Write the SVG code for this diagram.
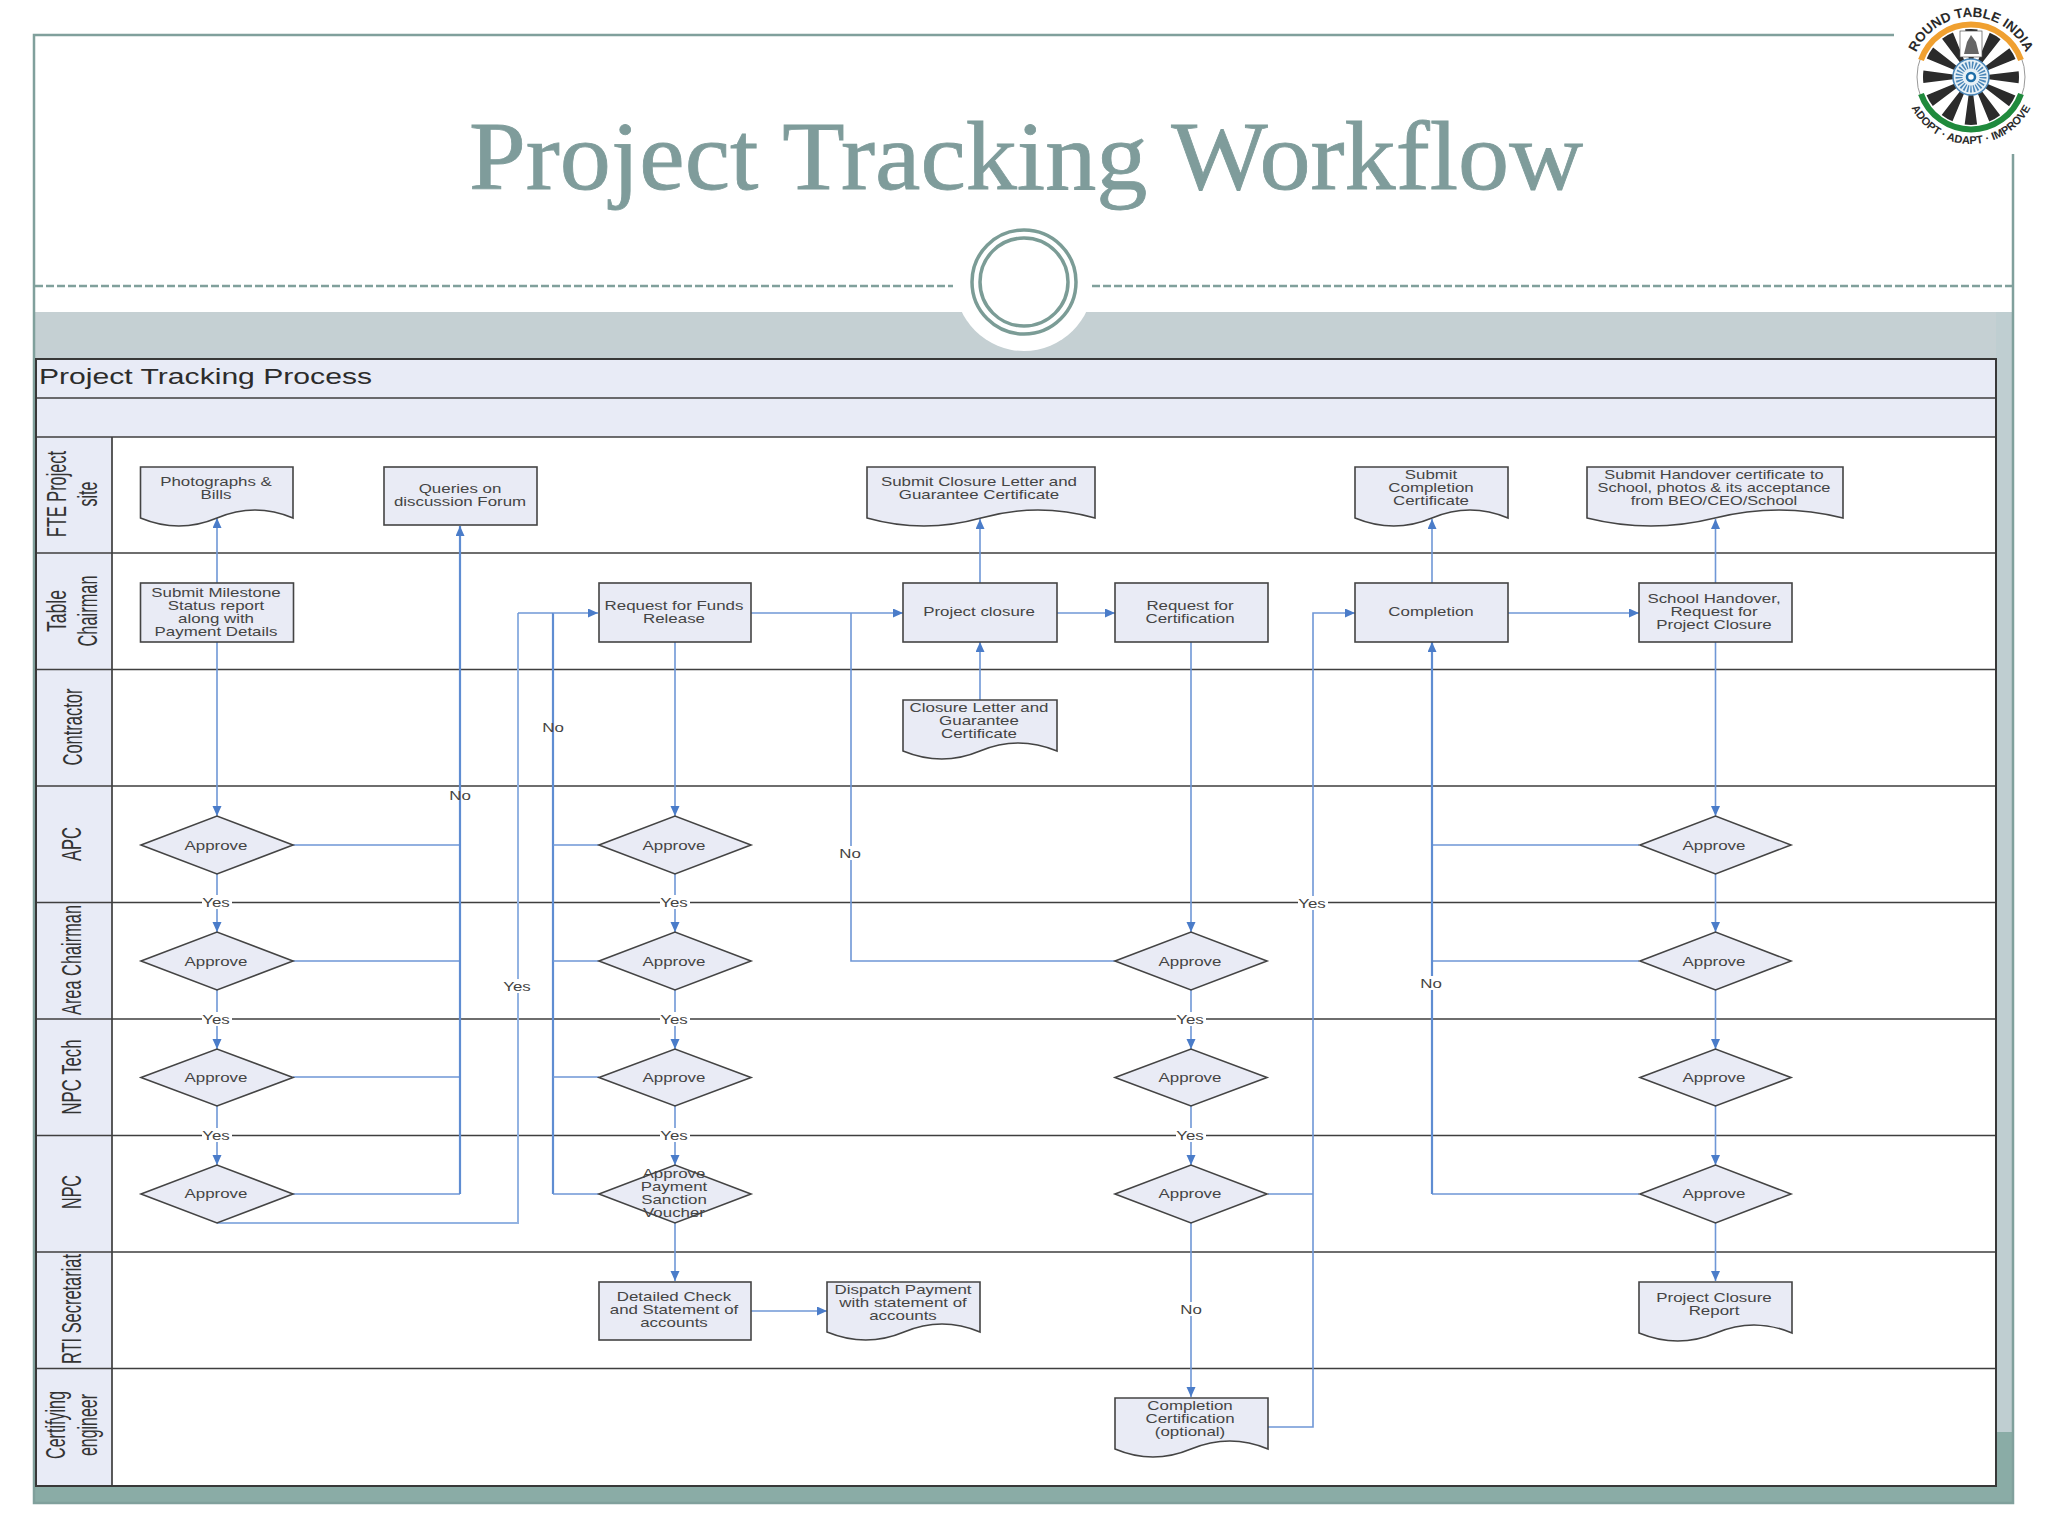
<svg xmlns="http://www.w3.org/2000/svg" width="2048" height="1536" viewBox="0 0 2048 1536">
<style>
text{font-family:"Liberation Sans",Arial,sans-serif}
.t{font-size:12.800px;fill:#444;text-anchor:middle}
.l{font-size:12.800px;fill:#444;text-anchor:middle}
.lane{font-size:27px;fill:#333;text-anchor:middle}
.n{fill:#e9ebf5;stroke:#444;stroke-width:1.600}
.c{fill:none;stroke:#6f97d6;stroke-width:1.600}
.c2{fill:none;stroke:#93b3e2;stroke-width:2}
.c3{fill:none;stroke:#5f8dd2;stroke-width:2.200}
.a{marker-end:url(#ah)}
.r{stroke:#3f3f3f;stroke-width:1.700;fill:none}
.bg{fill:#fff}
</style>
<defs>
<marker id="ah" markerUnits="userSpaceOnUse" markerWidth="11" markerHeight="10" refX="10" refY="4.500" orient="auto"><path d="M0 0L10 4.500L0 9Z" fill="#4a7cc9"/></marker>
</defs>
<rect width="2048" height="1536" fill="#fff"/>
<g id="slide-frame">
<rect x="35" y="312" width="1978" height="50" fill="#c5d0d3"/>
<rect x="1996" y="312" width="18" height="1120" fill="#bfced1"/>
<rect x="1996" y="1432" width="18" height="72" fill="#8aaca6"/>
<rect x="34" y="1486" width="1980" height="18" fill="#8aaca6"/>
<circle cx="1024" cy="282" r="69" fill="#fff"/>
<path d="M1894 35H34V1503H2013V154" fill="none" stroke="#80a09c" stroke-width="2.500"/>
<path d="M35 286H953M1092 286H2012" fill="none" stroke="#80a09c" stroke-width="2.500" stroke-dasharray="8 3"/>
<circle cx="1024" cy="282" r="52" fill="#fff" stroke="#7b9c96" stroke-width="3.500"/>
<circle cx="1024" cy="282" r="44" fill="none" stroke="#7b9c96" stroke-width="3.500"/>
<text x="469" y="189" font-size="98" fill="#7f9c9b" stroke="#7f9c9b" stroke-width=".8" textLength="1114" lengthAdjust="spacingAndGlyphs" style="font-family:'Liberation Serif','Times New Roman',serif">Project Tracking Workflow</text>
</g>
<g id="logo">
<circle cx="1971" cy="77" r="54" fill="#fff" stroke="#999" stroke-width="1"/>
<circle cx="1971" cy="77" r="33" fill="none" stroke="#2b2b2b" stroke-width="30" stroke-dasharray="8.640 8.640" stroke-dashoffset="4.320"/>
<path d="M1921 60A53 53 0 0 1 2021 60" fill="none" stroke="#f0a030" stroke-width="6"/>
<path d="M1921 94A53 53 0 0 0 2021 94" fill="none" stroke="#1f8a3c" stroke-width="6"/>
<rect x="1960" y="31" width="22" height="26" fill="#fff" stroke="#555" stroke-width=".7"/>
<path d="M1971 35L1976 42L1979 54H1964L1967 42Z" fill="#666"/>
<circle cx="1971" cy="77" r="18" fill="#e6f0f6" stroke="#4a86b8" stroke-width="1.500"/>
<circle cx="1971" cy="77" r="12" fill="none" stroke="#4a86b8" stroke-width="7" stroke-dasharray="1.500 1.500"/>
<circle cx="1971" cy="77" r="4" fill="#fff" stroke="#1f6ea8" stroke-width="2.500"/>
<path id="lt" d="M1911 77A60 60 0 0 1 2031 77" fill="none"/>
<path id="lb" d="M1904 77A67 67 0 0 0 2038 77" fill="none"/>
<text font-size="13.500" font-weight="bold" fill="#2a2a2a" text-anchor="middle"><textPath href="#lt" startOffset="50%">ROUND TABLE INDIA</textPath></text>
<text font-size="11" font-weight="bold" fill="#2a2a2a" text-anchor="middle"><textPath href="#lb" startOffset="50%">ADOPT · ADAPT · IMPROVE</textPath></text>
</g>
<g id="swimlanes">
<rect x="36" y="359" width="1960" height="78" fill="#e8ebf6"/>
<rect x="36" y="437" width="76" height="1049" fill="#e8ebf6"/>
<rect x="112" y="437" width="1884" height="1049" fill="#fff"/>
<path class="r" d="M36 398H1996M36 437H1996M36 553H1996M36 669.500H1996M36 786H1996M36 902.500H1996M36 1019H1996M36 1135.500H1996M36 1252H1996M36 1368.500H1996M112 437V1486"/>
<rect x="36" y="359" width="1960" height="1127" fill="none" stroke="#383838" stroke-width="2"/>
<text x="39" y="384" font-size="22" fill="#2c2c2c" textLength="333" lengthAdjust="spacingAndGlyphs">Project Tracking Process</text>
<text class="lane" transform="translate(66 494) rotate(-90)" textLength="86" lengthAdjust="spacingAndGlyphs">FTE Project</text>
<text class="lane" transform="translate(97 494) rotate(-90)" textLength="25" lengthAdjust="spacingAndGlyphs">site</text>
<text class="lane" transform="translate(66 611) rotate(-90)" textLength="42" lengthAdjust="spacingAndGlyphs">Table</text>
<text class="lane" transform="translate(97 611) rotate(-90)" textLength="71" lengthAdjust="spacingAndGlyphs">Chairman</text>
<text class="lane" transform="translate(82 727) rotate(-90)" textLength="77" lengthAdjust="spacingAndGlyphs">Contractor</text>
<text class="lane" transform="translate(81 844) rotate(-90)" textLength="34" lengthAdjust="spacingAndGlyphs">APC</text>
<text class="lane" transform="translate(81 960) rotate(-90)" textLength="110" lengthAdjust="spacingAndGlyphs">Area Chairman</text>
<text class="lane" transform="translate(81 1077) rotate(-90)" textLength="75" lengthAdjust="spacingAndGlyphs">NPC Tech</text>
<text class="lane" transform="translate(81 1192) rotate(-90)" textLength="34" lengthAdjust="spacingAndGlyphs">NPC</text>
<text class="lane" transform="translate(81 1309) rotate(-90)" textLength="110" lengthAdjust="spacingAndGlyphs">RTI Secretariat</text>
<text class="lane" transform="translate(65 1425) rotate(-90)" textLength="68" lengthAdjust="spacingAndGlyphs">Certifying</text>
<text class="lane" transform="translate(97 1425) rotate(-90)" textLength="62" lengthAdjust="spacingAndGlyphs">engineer</text>
</g>
<g id="connectors">
<path class="c a" d="M217 583V518"/>
<path class="c a" d="M217 642V816"/>
<path class="c a" d="M217 874V932"/>
<path class="c a" d="M217 990V1049"/>
<path class="c a" d="M217 1106V1165"/>
<path class="c" d="M293 845H460M293 961H460M293 1077H460M293 1194H460"/>
<path class="c3 a" d="M460 1194V526"/>
<path class="c2" d="M217 1223H518V613"/>
<path class="c" d="M518 613H553"/>
<path class="c3" d="M553 1194V613"/>
<path class="c a" d="M553 613H598"/>
<path class="c" d="M599 845H553M599 961H553M599 1077H553M599 1194H553"/>
<path class="c a" d="M675 642V816"/>
<path class="c a" d="M675 874V932"/>
<path class="c a" d="M675 990V1049"/>
<path class="c a" d="M675 1106V1165"/>
<path class="c a" d="M675 1223V1281"/>
<path class="c a" d="M751 1311H827"/>
<path class="c a" d="M751 613H903"/>
<path class="c" d="M851 613V961H1115"/>
<path class="c a" d="M1057 613H1115"/>
<path class="c a" d="M980 583V519"/>
<path class="c a" d="M980 700V642"/>
<path class="c a" d="M1191 642V932"/>
<path class="c a" d="M1191 990V1049"/>
<path class="c a" d="M1191 1106V1165"/>
<path class="c a" d="M1191 1223V1397"/>
<path class="c" d="M1268 1194H1313"/>
<path class="c a" d="M1267 1427H1313V613H1355"/>
<path class="c a" d="M1432 583V519"/>
<path class="c a" d="M1508 613H1639"/>
<path class="c a" d="M1715.500 583V519"/>
<path class="c a" d="M1715.500 642V816"/>
<path class="c a" d="M1715.500 874V932"/>
<path class="c a" d="M1715.500 990V1049"/>
<path class="c a" d="M1715.500 1106V1165"/>
<path class="c a" d="M1715.500 1223V1281"/>
<path class="c" d="M1639 845H1432M1639 961H1432M1639 1194H1432"/>
<path class="c3 a" d="M1432 1194V642"/>
</g>
<g id="connector-labels">
<rect class="bg" x="202" y="895" width="30" height="14"/><text class="l" transform="translate(216 907) scale(1.320 1)">Yes</text>
<rect class="bg" x="202" y="1012" width="30" height="14"/><text class="l" transform="translate(216 1024) scale(1.320 1)">Yes</text>
<rect class="bg" x="202" y="1128" width="30" height="14"/><text class="l" transform="translate(216 1140) scale(1.320 1)">Yes</text>
<rect class="bg" x="660" y="895" width="30" height="14"/><text class="l" transform="translate(674 907) scale(1.320 1)">Yes</text>
<rect class="bg" x="660" y="1012" width="30" height="14"/><text class="l" transform="translate(674 1024) scale(1.320 1)">Yes</text>
<rect class="bg" x="660" y="1128" width="30" height="14"/><text class="l" transform="translate(674 1140) scale(1.320 1)">Yes</text>
<rect class="bg" x="1176" y="1012" width="30" height="14"/><text class="l" transform="translate(1190 1024) scale(1.320 1)">Yes</text>
<rect class="bg" x="1176" y="1128" width="30" height="14"/><text class="l" transform="translate(1190 1140) scale(1.320 1)">Yes</text>
<rect class="bg" x="1298" y="896" width="30" height="14"/><text class="l" transform="translate(1312 908) scale(1.320 1)">Yes</text>
<rect class="bg" x="503" y="979" width="30" height="14"/><text class="l" transform="translate(517 991) scale(1.320 1)">Yes</text>
<text class="l" transform="translate(460 800) scale(1.320 1)">No</text>
<text class="l" transform="translate(553 732) scale(1.320 1)">No</text>
<rect class="bg" x="839" y="846" width="23" height="14"/><text class="l" transform="translate(850 858) scale(1.320 1)">No</text>
<rect class="bg" x="1420" y="976" width="23" height="14"/><text class="l" transform="translate(1431 988) scale(1.320 1)">No</text>
<rect class="bg" x="1180" y="1302" width="23" height="14"/><text class="l" transform="translate(1191 1314) scale(1.320 1)">No</text>
</g>
<g id="n-photographs"><path class="n" d="M140.500 467H293V518Q255 502 217 518Q179 534 140.500 518Z"/><text class="t" transform="translate(216 486) scale(1.320 1)"><tspan x="0">Photographs &amp;</tspan><tspan x="0" dy="13">Bills</tspan></text></g>
<g id="n-queries"><rect class="n" x="384" y="467" width="153" height="58"/><text class="t" transform="translate(460 493) scale(1.320 1)"><tspan x="0">Queries on</tspan><tspan x="0" dy="13">discussion Forum</tspan></text></g>
<g id="n-submit-closure"><path class="n" d="M867 467H1095V518Q1038 502 981 518Q924 534 867 518Z"/><text class="t" transform="translate(979 486) scale(1.320 1)"><tspan x="0">Submit Closure Letter and</tspan><tspan x="0" dy="13">Guarantee Certificate</tspan></text></g>
<g id="n-submit-completion"><path class="n" d="M1355 467H1508V518Q1470 502 1432 518Q1394 534 1355 518Z"/><text class="t" transform="translate(1431 479) scale(1.320 1)"><tspan x="0">Submit</tspan><tspan x="0" dy="13">Completion</tspan><tspan x="0" dy="13">Certificate</tspan></text></g>
<g id="n-submit-handover"><path class="n" d="M1587 467H1843V518Q1779 502 1715 518Q1651 534 1587 518Z"/><text class="t" transform="translate(1714 479) scale(1.280 1)"><tspan x="0">Submit Handover certificate to</tspan><tspan x="0" dy="13">School, photos &amp; its acceptance</tspan><tspan x="0" dy="13">from BEO/CEO/School</tspan></text></g>
<g id="n-milestone"><rect class="n" x="140.500" y="583" width="153" height="59"/><text class="t" transform="translate(216 597) scale(1.320 1)"><tspan x="0">Submit Milestone</tspan><tspan x="0" dy="13">Status report</tspan><tspan x="0" dy="13">along with</tspan><tspan x="0" dy="13">Payment Details</tspan></text></g>
<g id="n-request-funds"><rect class="n" x="599" y="583" width="152" height="59"/><text class="t" transform="translate(674 610) scale(1.320 1)"><tspan x="0">Request for Funds</tspan><tspan x="0" dy="13">Release</tspan></text></g>
<g id="n-project-closure"><rect class="n" x="903" y="583" width="154" height="59"/><text class="t" transform="translate(979 616) scale(1.320 1)">Project closure</text></g>
<g id="n-request-cert"><rect class="n" x="1115" y="583" width="153" height="59"/><text class="t" transform="translate(1190 610) scale(1.320 1)"><tspan x="0">Request for</tspan><tspan x="0" dy="13">Certification</tspan></text></g>
<g id="n-completion"><rect class="n" x="1355" y="583" width="153" height="59"/><text class="t" transform="translate(1431 616) scale(1.320 1)">Completion</text></g>
<g id="n-school"><rect class="n" x="1639" y="583" width="153" height="59"/><text class="t" transform="translate(1714 603) scale(1.320 1)"><tspan x="0">School Handover,</tspan><tspan x="0" dy="13">Request for</tspan><tspan x="0" dy="13">Project Closure</tspan></text></g>
<g id="n-closure-letter"><path class="n" d="M903 700H1057V751Q1018 735 980 751Q942 767 903 751Z"/><text class="t" transform="translate(979 712) scale(1.320 1)"><tspan x="0">Closure Letter and</tspan><tspan x="0" dy="13">Guarantee</tspan><tspan x="0" dy="13">Certificate</tspan></text></g>
<g id="n-a1"><path class="n" d="M141 845L217 816L293 845L217 874Z"/><text class="t" transform="translate(216 850) scale(1.320 1)">Approve</text></g>
<g id="n-a2"><path class="n" d="M141 961L217 932L293 961L217 990Z"/><text class="t" transform="translate(216 966) scale(1.320 1)">Approve</text></g>
<g id="n-a3"><path class="n" d="M141 1077.500L217 1049L293 1077.500L217 1106Z"/><text class="t" transform="translate(216 1082) scale(1.320 1)">Approve</text></g>
<g id="n-a4"><path class="n" d="M141 1194L217 1165L293 1194L217 1223Z"/><text class="t" transform="translate(216 1198) scale(1.320 1)">Approve</text></g>
<g id="n-b1"><path class="n" d="M599 845L675 816L751 845L675 874Z"/><text class="t" transform="translate(674 850) scale(1.320 1)">Approve</text></g>
<g id="n-b2"><path class="n" d="M599 961L675 932L751 961L675 990Z"/><text class="t" transform="translate(674 966) scale(1.320 1)">Approve</text></g>
<g id="n-b3"><path class="n" d="M599 1077.500L675 1049L751 1077.500L675 1106Z"/><text class="t" transform="translate(674 1082) scale(1.320 1)">Approve</text></g>
<g id="n-b4"><path class="n" d="M599 1194L675 1165L751 1194L675 1223Z"/><text class="t" transform="translate(674 1178) scale(1.320 1)"><tspan x="0">Approve</tspan><tspan x="0" dy="13">Payment</tspan><tspan x="0" dy="13">Sanction</tspan><tspan x="0" dy="13">Voucher</tspan></text></g>
<g id="n-c2"><path class="n" d="M1115 961L1191 932L1267 961L1191 990Z"/><text class="t" transform="translate(1190 966) scale(1.320 1)">Approve</text></g>
<g id="n-c3"><path class="n" d="M1115 1077.500L1191 1049L1267 1077.500L1191 1106Z"/><text class="t" transform="translate(1190 1082) scale(1.320 1)">Approve</text></g>
<g id="n-c4"><path class="n" d="M1115 1194L1191 1165L1267 1194L1191 1223Z"/><text class="t" transform="translate(1190 1198) scale(1.320 1)">Approve</text></g>
<g id="n-d1"><path class="n" d="M1640 845L1715.500 816L1791 845L1715.500 874Z"/><text class="t" transform="translate(1714 850) scale(1.320 1)">Approve</text></g>
<g id="n-d2"><path class="n" d="M1640 961L1715.500 932L1791 961L1715.500 990Z"/><text class="t" transform="translate(1714 966) scale(1.320 1)">Approve</text></g>
<g id="n-d3"><path class="n" d="M1640 1077.500L1715.500 1049L1791 1077.500L1715.500 1106Z"/><text class="t" transform="translate(1714 1082) scale(1.320 1)">Approve</text></g>
<g id="n-d4"><path class="n" d="M1640 1194L1715.500 1165L1791 1194L1715.500 1223Z"/><text class="t" transform="translate(1714 1198) scale(1.320 1)">Approve</text></g>
<g id="n-detailed"><rect class="n" x="599" y="1282" width="152" height="58"/><text class="t" transform="translate(674 1301) scale(1.320 1)"><tspan x="0">Detailed Check</tspan><tspan x="0" dy="13">and Statement of</tspan><tspan x="0" dy="13">accounts</tspan></text></g>
<g id="n-dispatch"><path class="n" d="M827 1282H980V1332Q942 1316 904 1332Q866 1348 827 1332Z"/><text class="t" transform="translate(903 1294) scale(1.320 1)"><tspan x="0">Dispatch Payment</tspan><tspan x="0" dy="13">with statement of</tspan><tspan x="0" dy="13">accounts</tspan></text></g>
<g id="n-closure-report"><path class="n" d="M1639 1282H1792V1333Q1754 1317 1716 1333Q1678 1349 1639 1333Z"/><text class="t" transform="translate(1714 1302) scale(1.320 1)"><tspan x="0">Project Closure</tspan><tspan x="0" dy="13">Report</tspan></text></g>
<g id="n-completion-cert"><path class="n" d="M1115 1398H1268V1449Q1230 1433 1191 1449Q1153 1465 1115 1449Z"/><text class="t" transform="translate(1190 1410) scale(1.320 1)"><tspan x="0">Completion</tspan><tspan x="0" dy="13">Certification</tspan><tspan x="0" dy="13">(optional)</tspan></text></g>
</svg>
